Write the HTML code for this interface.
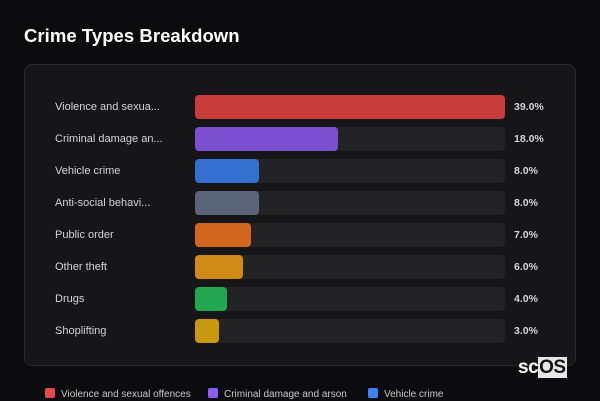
<!DOCTYPE html>
<html><head><meta charset="utf-8"><style>
body{margin:0;width:600px;height:400px;background:#0c0c0e;font-family:"Liberation Sans",sans-serif;overflow:hidden;position:relative}
#title{position:absolute;left:24px;top:25px;font-size:18.5px;font-weight:bold;color:#fff;letter-spacing:0.05px}
#card{position:absolute;left:24px;top:64px;width:552px;height:302px;background:#161618;border:1px solid #2a2a2e;border-radius:8px;box-sizing:border-box}
.lbl{position:absolute;left:55px;font-size:11px;color:#d4d4d8;line-height:14px}
.track{position:absolute;left:195px;width:310px;height:24px;background:#232326;border-radius:4px}
.bar{position:absolute;left:0;top:0;height:24px;border-radius:4px}
.val{position:absolute;left:514px;font-size:10.5px;font-weight:bold;color:#d4d4d8;line-height:14px}
.leg{position:absolute;top:388px;font-size:10px;color:#c8c8cc;line-height:12px}
.sw{display:inline-block;width:10px;height:10px;border-radius:2px;vertical-align:-1px;margin-right:6px}
#logo{position:absolute;left:518px;top:357px;font-size:19px;font-weight:bold;color:#fff;letter-spacing:-0.5px}
#logo span{background:#e6e6e6;color:#111;padding:0 1px}
</style></head><body>
<div id="title">Crime Types Breakdown</div>
<div id="card"></div>
<div id="rows"></div>
<div class="leg" style="left:45px"><span class="sw" style="background:#e5484d"></span>Violence and sexual offences</div>
<div class="leg" style="left:208px"><span class="sw" style="background:#8b5cf6"></span>Criminal damage and arson</div>
<div class="leg" style="left:368px"><span class="sw" style="background:#3b82f6"></span>Vehicle crime</div>
<div id="logo">sc<span>OS</span></div>
<script>
const categories=["Violence and sexua...","Criminal damage an...","Vehicle crime","Anti-social behavi...","Public order","Other theft","Drugs","Shoplifting"];
const values=[39,18,8,8,7,6,4,3];
const valueLabels=["39.0%","18.0%","8.0%","8.0%","7.0%","6.0%","4.0%","3.0%"];
const colors=["#c83c3c","#7b4fd0","#3470d0","#5a6478","#d2661e","#d08a18","#22a650","#c8980e"];
const maxV=Math.max(...values);
function x(v){return v/maxV*310;}
function y(i){return 95+i*32;}
const root=document.getElementById('rows');
categories.forEach((c,i)=>{
  const l=document.createElement('div');l.className='lbl';l.style.top=(y(i)+5)+'px';l.textContent=c;
  
  
  root.appendChild(l);
  const t=document.createElement('div');t.className='track';t.style.top=y(i)+'px';
  
  
  const b=document.createElement('div');b.className='bar';b.style.width=x(values[i])+'px';b.style.background=colors[i];
  
  
  t.appendChild(b);root.appendChild(t);
  const v=document.createElement('div');v.className='val';v.style.top=(y(i)+5)+'px';v.textContent=valueLabels[i];
  
  
  root.appendChild(v);
});
</script>
</body></html>
